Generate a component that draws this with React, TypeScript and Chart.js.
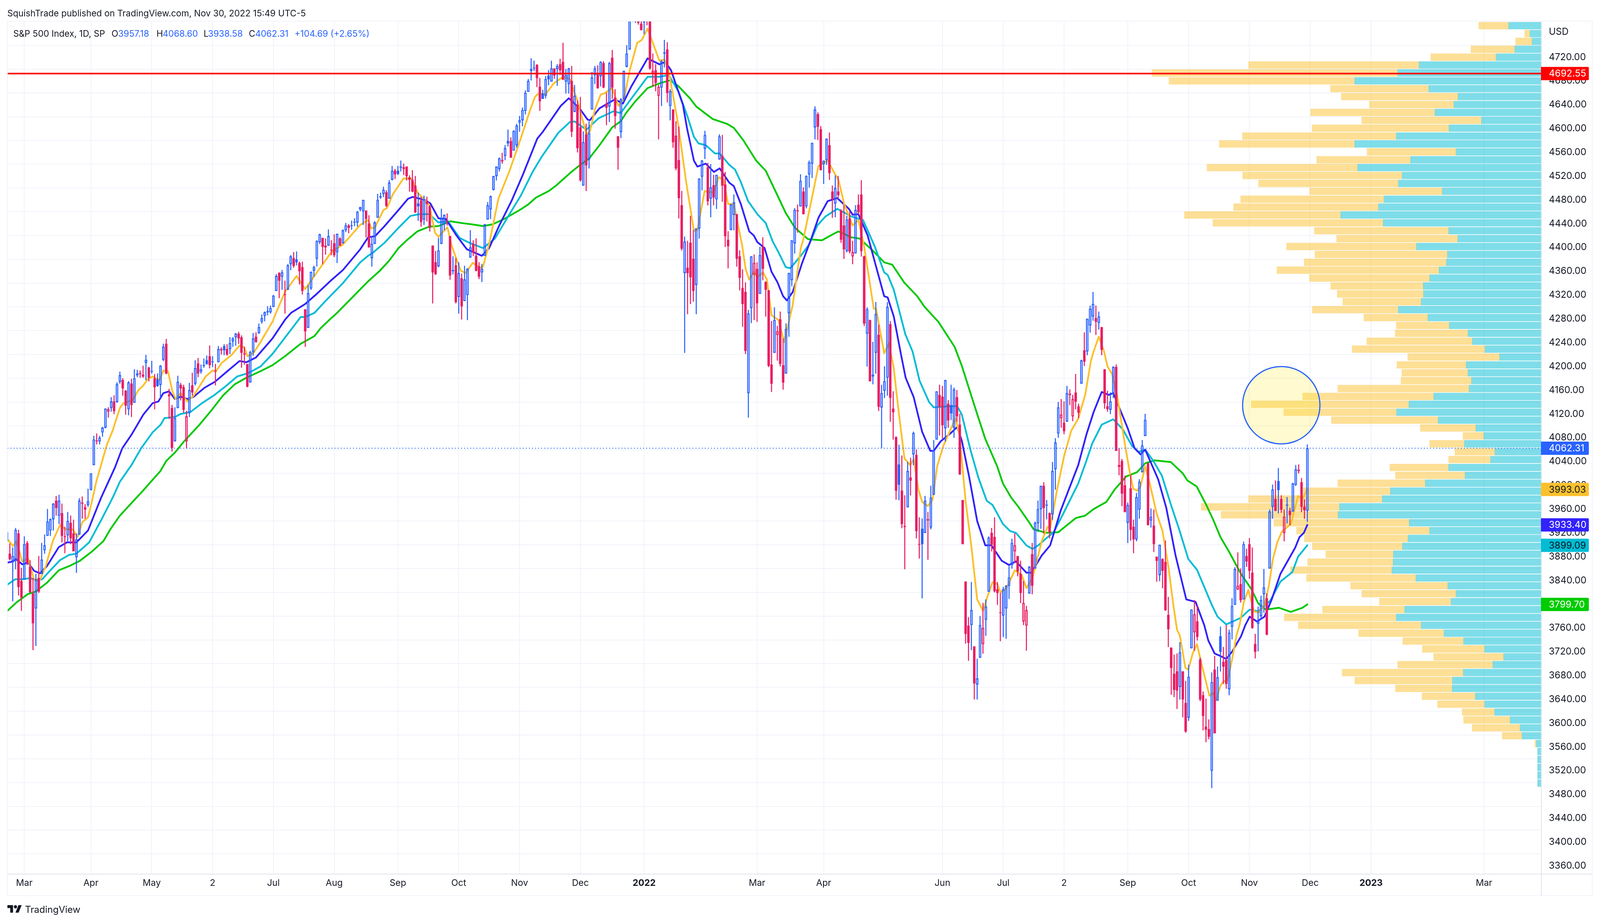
import React, { useEffect, useRef } from "react";
import { Chart, registerables } from "chart.js";

Chart.register(...registerables);

const FONT = "Inter";
const INK = "#131722";
const UP = "#2962ff";
const DOWN = "#e91e63";

// Daily candles, [open, high, low, close], read month by month
const feb21 = [[3921,3931,3903,3906],[3885,3902,3874,3876],[3873,3895,3805,3881],[3873,3928,3859,3925],[3919,3925,3815,3829],[3839,3861,3789,3811]];
const mar21 = [[3842,3914,3842,3901],[3903,3906,3866,3870],[3863,3874,3819,3820],[3818,3844,3723,3768],[3793,3851,3730,3842],[3844,3881,3819,3821],[3851,3903,3851,3875],[3891,3917,3885,3899],[3915,3960,3915,3939],[3924,3944,3915,3943],[3943,3970,3924,3969],[3974,3982,3949,3962],[3949,3984,3935,3974],[3953,3969,3904,3915],[3914,3930,3886,3913],[3916,3955,3906,3940],[3937,3949,3901,3911],[3919,3942,3889,3889],[3879,3919,3853,3909],[3917,3978,3917,3974],[3969,3981,3944,3971],[3963,3968,3944,3959],[3967,3994,3964,3973]];
const apr21 = [[3992,4020,3992,4020],[4034,4083,4034,4077],[4075,4087,4069,4074],[4074,4083,4069,4080],[4089,4098,4082,4097],[4097,4129,4096,4129],[4124,4131,4114,4128],[4130,4148,4124,4141],[4141,4151,4120,4125],[4140,4173,4139,4170],[4174,4191,4171,4185],[4177,4180,4151,4163],[4159,4160,4119,4134],[4128,4175,4118,4173],[4171,4179,4115,4135],[4139,4195,4139,4180],[4185,4194,4182,4188],[4188,4193,4181,4187],[4186,4201,4181,4183],[4206,4219,4177,4211],[4198,4199,4175,4181]];
const may21 = [[4191,4209,4188,4192],[4180,4187,4128,4165],[4178,4188,4166,4167],[4169,4202,4147,4201],[4211,4238,4209,4233],[4238,4246,4187,4188],[4150,4162,4112,4153],[4130,4135,4057,4063],[4074,4131,4074,4113],[4130,4184,4130,4174],[4169,4172,4143,4163],[4165,4169,4122,4127],[4074,4125,4062,4116],[4122,4172,4115,4160],[4168,4189,4151,4156],[4171,4210,4168,4197],[4205,4214,4182,4188],[4191,4203,4188,4195],[4201,4213,4198,4201],[4210,4218,4203,4204]];
const jun21 = [[4217,4235,4197,4202],[4207,4217,4199,4208],[4191,4204,4168,4192],[4207,4234,4207,4229],[4229,4232,4220,4227],[4234,4237,4219,4227],[4229,4237,4218,4220],[4229,4249,4221,4239],[4242,4249,4233,4247],[4249,4256,4235,4255],[4255,4258,4238,4247],[4249,4252,4198,4223],[4220,4233,4203,4222],[4204,4204,4165,4166],[4173,4226,4173,4224],[4224,4256,4218,4247],[4250,4257,4240,4241],[4256,4272,4255,4266],[4275,4287,4272,4281],[4285,4292,4276,4291],[4293,4301,4286,4291],[4291,4302,4289,4298]];
const jul21 = [[4300,4320,4300,4319],[4327,4355,4327,4352],[4357,4358,4315,4344],[4351,4362,4329,4358],[4321,4344,4289,4320],[4329,4372,4329,4370],[4372,4387,4362,4385],[4382,4392,4366,4369],[4380,4393,4370,4375],[4374,4376,4338,4360],[4367,4376,4321,4327],[4296,4296,4233,4259],[4265,4337,4265,4323],[4331,4359,4329,4359],[4361,4369,4351,4367],[4381,4412,4368,4411],[4409,4423,4406,4422],[4416,4416,4372,4401],[4403,4415,4388,4400],[4403,4430,4403,4419],[4396,4412,4387,4395]];
const aug21 = [[4407,4422,4384,4387],[4392,4423,4374,4423],[4415,4417,4403,4403],[4407,4430,4407,4429],[4429,4441,4426,4437],[4437,4439,4424,4433],[4436,4445,4430,4436],[4442,4449,4436,4443],[4442,4461,4435,4460],[4464,4468,4461,4468],[4461,4480,4438,4480],[4462,4462,4417,4448],[4440,4454,4400,4400],[4382,4418,4368,4406],[4406,4444,4406,4442],[4450,4490,4450,4480],[4484,4492,4482,4486],[4490,4502,4485,4497],[4493,4496,4468,4470],[4482,4513,4482,4509],[4514,4537,4513,4529],[4529,4532,4515,4523]];
const sep21 = [[4529,4537,4522,4524],[4534,4546,4528,4536],[4532,4541,4522,4535],[4536,4536,4513,4520],[4518,4521,4494,4514],[4514,4530,4493,4494],[4504,4520,4458,4459],[4474,4492,4445,4469],[4479,4485,4435,4443],[4447,4487,4438,4481],[4477,4485,4444,4473],[4469,4471,4427,4433],[4403,4403,4306,4358],[4375,4394,4354,4355],[4368,4416,4367,4395],[4406,4465,4406,4449],[4439,4455,4429,4455],[4443,4457,4437,4444],[4419,4419,4346,4353],[4362,4385,4355,4360],[4370,4382,4306,4308]];
const oct21 = [[4317,4375,4289,4357],[4348,4356,4279,4301],[4310,4369,4310,4346],[4320,4365,4278,4364],[4383,4429,4383,4400],[4406,4412,4386,4391],[4386,4415,4360,4361],[4368,4375,4347,4351],[4358,4372,4342,4364],[4386,4439,4386,4439],[4447,4476,4447,4471],[4464,4487,4448,4486],[4497,4520,4496,4520],[4520,4536,4513,4536],[4532,4551,4528,4550],[4547,4559,4541,4545],[4554,4572,4547,4567],[4579,4598,4570,4575],[4579,4585,4551,4551],[4563,4597,4563,4596],[4572,4608,4568,4605]];
const nov21 = [[4610,4621,4595,4614],[4614,4635,4604,4631],[4630,4664,4624,4660],[4662,4683,4662,4680],[4700,4718,4681,4697],[4701,4714,4697,4702],[4707,4708,4670,4685],[4670,4685,4630,4646],[4659,4665,4650,4650],[4655,4688,4651,4683],[4689,4698,4673,4683],[4679,4714,4679,4701],[4701,4701,4684,4689],[4700,4708,4672,4705],[4708,4717,4690,4698],[4712,4744,4683,4682],[4679,4700,4659,4690],[4675,4702,4659,4701],[4680,4705,4586,4595],[4628,4673,4628,4655],[4640,4647,4560,4567]];
const dec21 = [[4602,4653,4511,4513],[4504,4595,4504,4577],[4590,4608,4495,4538],[4548,4612,4533,4592],[4632,4695,4632,4686],[4690,4705,4675,4701],[4691,4706,4667,4668],[4688,4713,4671,4712],[4710,4713,4668,4669],[4642,4660,4606,4635],[4637,4712,4611,4710],[4719,4732,4650,4669],[4652,4666,4600,4621],[4587,4587,4531,4568],[4594,4651,4584,4649],[4650,4697,4645,4697],[4704,4740,4703,4726],[4733,4792,4733,4791],[4795,4808,4780,4786],[4788,4805,4778,4793],[4795,4808,4775,4778],[4776,4787,4765,4766]];
const jan22 = [[4779,4797,4759,4797],[4804,4819,4774,4794],[4787,4798,4699,4701],[4693,4726,4671,4697],[4698,4708,4663,4677],[4655,4673,4582,4670],[4669,4715,4638,4713],[4728,4749,4703,4726],[4733,4745,4644,4660],[4638,4666,4614,4663],[4632,4632,4568,4577],[4588,4612,4530,4533],[4547,4603,4449,4483],[4471,4495,4395,4398],[4357,4418,4223,4410],[4366,4411,4288,4357],[4408,4453,4305,4350],[4381,4429,4309,4327],[4337,4432,4288,4432],[4432,4516,4415,4516]];
const feb22 = [[4519,4547,4496,4546],[4566,4596,4549,4589],[4535,4542,4471,4478],[4482,4540,4451,4501],[4505,4522,4471,4484],[4481,4522,4465,4522],[4548,4590,4548,4587],[4554,4589,4477,4504],[4506,4527,4401,4419],[4413,4427,4365,4402],[4430,4473,4429,4472],[4455,4489,4429,4476],[4456,4456,4368,4381],[4385,4395,4328,4349],[4332,4363,4267,4305],[4325,4341,4221,4226],[4155,4295,4114,4289],[4298,4385,4273,4385],[4354,4388,4278,4374]];
const mar22 = [[4364,4375,4275,4306],[4322,4401,4322,4387],[4401,4417,4345,4364],[4342,4343,4284,4329],[4328,4328,4199,4201],[4203,4276,4157,4171],[4223,4299,4223,4278],[4253,4268,4210,4259],[4279,4292,4200,4204],[4202,4247,4161,4173],[4188,4272,4188,4263],[4289,4357,4250,4357],[4345,4412,4335,4412],[4407,4466,4390,4463],[4462,4472,4425,4461],[4469,4523,4469,4512],[4494,4501,4456,4456],[4469,4521,4466,4520],[4523,4546,4501,4543],[4541,4576,4517,4576],[4602,4637,4582,4632],[4624,4627,4581,4603],[4599,4604,4531,4530]];
const apr22 = [[4540,4546,4507,4546],[4547,4583,4539,4583],[4572,4593,4514,4525],[4494,4504,4450,4481],[4474,4521,4451,4500],[4494,4520,4481,4488],[4462,4464,4408,4413],[4437,4471,4381,4397],[4394,4453,4392,4447],[4449,4461,4390,4393],[4385,4411,4372,4392],[4390,4471,4390,4463],[4472,4489,4455,4459],[4489,4513,4385,4394],[4385,4386,4268,4272],[4255,4299,4200,4296],[4278,4278,4175,4175],[4186,4241,4170,4183],[4223,4308,4188,4288],[4253,4270,4125,4132]];
const may22 = [[4131,4169,4063,4155],[4159,4200,4147,4175],[4181,4308,4151,4300],[4271,4276,4107,4147],[4129,4158,4077,4123],[4081,4082,3976,3991],[4035,4068,3975,4001],[3991,4050,3928,3935],[3931,3983,3859,3930],[3963,4039,3963,4024],[4013,4046,3983,4008],[4052,4090,4034,4088],[4051,4060,3911,3923],[3900,3946,3877,3901],[3927,3944,3810,3901],[3920,3982,3920,3974],[3943,3955,3875,3941],[3929,3999,3926,3979],[3984,4076,3984,4058],[4077,4158,4077,4158],[4152,4169,4084,4132]];
const jun22 = [[4149,4167,4079,4101],[4096,4177,4074,4177],[4137,4143,4097,4109],[4135,4169,4110,4121],[4097,4164,4080,4161],[4148,4160,4107,4116],[4102,4120,4018,4018],[3975,3975,3901,3901],[3838,3838,3734,3750],[3764,3778,3705,3735],[3765,3837,3723,3790],[3729,3729,3640,3667],[3665,3708,3640,3675],[3710,3780,3710,3765],[3733,3802,3717,3760],[3774,3808,3747,3796],[3821,3914,3821,3912],[3920,3928,3889,3900],[3913,3946,3820,3822],[3825,3837,3799,3819],[3786,3819,3738,3785]];
const jul22 = [[3781,3829,3745,3825],[3793,3832,3742,3831],[3831,3864,3809,3845],[3866,3910,3860,3903],[3889,3919,3870,3899],[3881,3881,3847,3855],[3851,3873,3802,3819],[3771,3839,3765,3802],[3764,3797,3722,3790],[3818,3864,3818,3863],[3884,3903,3817,3831],[3860,3939,3860,3937],[3936,3974,3922,3960],[3960,3999,3927,3999],[3999,4005,3919,3962],[3966,3975,3943,3967],[3953,3954,3911,3921],[3951,4039,3942,4024],[4027,4079,3993,4072],[4087,4140,4080,4131]];
const aug22 = [[4113,4145,4097,4119],[4105,4141,4086,4091],[4107,4167,4107,4155],[4154,4161,4135,4152],[4116,4152,4108,4145],[4156,4187,4128,4141],[4133,4137,4113,4122],[4171,4211,4171,4210],[4227,4257,4201,4208],[4225,4280,4219,4280],[4269,4302,4257,4297],[4284,4325,4277,4305],[4281,4302,4253,4275],[4273,4292,4262,4284],[4266,4266,4219,4228],[4195,4195,4129,4138],[4133,4159,4124,4128],[4127,4156,4120,4141],[4153,4200,4147,4199],[4199,4203,4058,4058],[4034,4062,4017,4031],[4041,4044,3965,3986],[4000,4016,3955,3955]];
const sep22 = [[3937,3971,3903,3967],[3995,4018,3907,3925],[3930,3942,3886,3909],[3909,3987,3906,3980],[3959,4010,3944,4006],[4022,4076,4022,4067],[4083,4120,4083,4110],[4037,4038,3933,3933],[3941,3961,3929,3947],[3932,3959,3888,3901],[3880,3880,3838,3873],[3849,3900,3839,3900],[3876,3877,3827,3856],[3871,3907,3789,3790],[3782,3812,3728,3758],[3727,3727,3648,3693],[3683,3715,3644,3656],[3687,3717,3624,3655],[3661,3736,3640,3719],[3687,3687,3610,3640],[3634,3671,3584,3586]];
const oct22 = [[3609,3698,3604,3678],[3726,3791,3726,3791],[3753,3807,3722,3783],[3771,3797,3739,3745],[3707,3710,3637,3640],[3647,3653,3588,3612],[3594,3641,3568,3589],[3590,3606,3573,3577],[3520,3685,3491,3669],[3690,3713,3584,3583],[3638,3695,3638,3677],[3746,3762,3687,3720],[3703,3728,3666,3695],[3706,3765,3658,3666],[3657,3757,3647,3752],[3762,3810,3741,3797],[3799,3862,3799,3859],[3825,3887,3824,3831],[3834,3860,3803,3807],[3808,3905,3808,3901],[3881,3893,3863,3872]];
const nov22 = [[3901,3911,3843,3856],[3853,3895,3759,3760],[3733,3750,3709,3720],[3767,3796,3721,3771],[3780,3814,3774,3807],[3817,3859,3786,3828],[3810,3818,3748,3749],[3860,3959,3860,3956],[3964,4001,3944,3993],[3977,4008,3957,3957],[4007,4029,3953,3992],[3977,3983,3954,3959],[3920,3959,3906,3947],[3967,3980,3936,3966],[3957,3962,3933,3950],[3956,4004,3956,4003],[4001,4034,3999,4027],[4024,4035,4020,4026],[4005,4012,3955,3964],[3964,3976,3944,3958],[3957.18,4068.6,3938.58,4062.31]];

// Moving averages, [bar number (0 = 1 Mar 2021), price]
const emaYellow = [[-5.8,3909],[-3.9,3898],[-2.7,3906],[-0.7,3872],[1.3,3877],[3.4,3841],[5.4,3841],[7.4,3864],[9.9,3907],[12.3,3933],[14.3,3926],[16.7,3926],[18.4,3913],[20,3938],[22,3946],[23.2,3970],[24.9,4007],[26.9,4041],[28.5,4068],[30.5,4092],[33,4130],[34.2,4138],[37.4,4143],[39.4,4160],[41.1,4168],[42.7,4179],[44.3,4183],[46.7,4177],[48,4193],[49.6,4192],[51.2,4157],[52.3,4145],[54,4155],[56.3,4141],[58.5,4151],[62.6,4183],[65,4193],[66.2,4192],[68.2,4206],[71.5,4219],[74.3,4235],[75.9,4232],[77.1,4217],[79.2,4223],[81.6,4241],[83.6,4258],[85.7,4275],[86.9,4290],[90,4325],[94,4352],[97,4330],[101,4358],[106,4392],[110,4405],[116,4438],[118.7,4446],[119.9,4432],[121.1,4434],[124,4463],[125.2,4466],[127.2,4489],[130.9,4516],[133.7,4516],[135.7,4493],[137.8,4482],[139.8,4472],[141.8,4425],[143,4418],[146.1,4434],[147.5,4404],[149.1,4382],[150.7,4361],[152.4,4357],[154.8,4374],[157.6,4366],[158.4,4368],[160.5,4406],[163.7,4482],[167.4,4527],[171.4,4583],[174.7,4632],[176.3,4653],[177.5,4659],[179.9,4657],[182.8,4676],[186,4687],[188.4,4683],[190.9,4648],[194.1,4591],[195.3,4595],[197,4632],[199,4657],[200.2,4659],[203,4668],[205.1,4638],[207.1,4651],[209.1,4699],[211.6,4744],[213.2,4749],[215.2,4768],[219.3,4714],[221,4716],[222.5,4697],[225.8,4606],[228.4,4514],[231.2,4428],[232.4,4429],[234.9,4495],[236.1,4493],[238.1,4493],[239.7,4518],[241.4,4514],[243,4473],[245,4473],[247.8,4405],[249.1,4363],[250.3,4346],[251.9,4359],[253.1,4350],[255.1,4358],[256.4,4346],[258,4286],[260.4,4278],[262.4,4241],[265.3,4303],[268.1,4399],[268.9,4412],[271.8,4480],[274.2,4537],[277.4,4546],[280.3,4520],[281.1,4514],[283.1,4473],[286,4437],[288,4446],[290,4401],[293.3,4297],[294.1,4297],[296.9,4222],[298.5,4239],[300.2,4197],[301.8,4128],[303.9,4045],[305.9,4034],[307.1,4044],[308.7,3993],[310,3972],[312,3965],[313.6,3976],[315.2,4032],[317.3,4066],[320.1,4097],[321.5,4113],[322.9,4085],[325,3974],[327,3897],[329,3808],[331,3789],[332.7,3815],[334.3,3837],[335.9,3834],[337.1,3820],[339.1,3827],[342,3857],[344.4,3849],[346,3827],[348.1,3844],[351.3,3906],[353.3,3930],[354.2,3928],[356.6,3993],[359,4049],[361.5,4092],[363.9,4112],[366.3,4152],[368.3,4210],[369.2,4225],[371,4250],[372.8,4225],[374,4200],[375.6,4187],[377.3,4152],[380.1,4066],[381.7,4022],[382.9,3994],[384.2,3991],[385.4,3998],[387,4032],[388.6,4003],[391,3952],[393,3923],[395.1,3861],[396.7,3800],[398,3757],[399,3747],[400.9,3693],[401.9,3690],[403.4,3717],[404.9,3733],[406.4,3701],[409.2,3646],[410.5,3651],[411.5,3638],[413,3663],[414,3670],[415.5,3672],[417,3707],[418.6,3749],[419.6,3765],[421.1,3804],[422.6,3824],[424.6,3788],[426.1,3786],[428.2,3798],[429.7,3831],[431.2,3878],[432.7,3905],[434.2,3922],[437.3,3935],[439.8,3982],[441.3,3977],[443,3993.03]];
const emaBlue = [[-5.8,3870],[-3.9,3872],[-2.9,3876],[-0.7,3867],[1.3,3870],[3.4,3856],[5.4,3852],[7.8,3864],[11.9,3896],[14.7,3904],[18,3904],[22,3924],[26.5,3979],[31.3,4030],[33.8,4062],[37,4085],[41.1,4119],[44.3,4138],[46.3,4141],[48,4155],[50,4158],[52,4145],[54,4149],[56.5,4145],[58.5,4149],[62.2,4164],[65.8,4174],[69.9,4191],[74.3,4209],[76.7,4207],[80,4215],[85.7,4247],[90.1,4279],[92.1,4290],[97,4305],[101,4322],[106,4345],[110,4362],[116,4397],[118.7,4417],[121.1,4419],[124.4,4436],[129.2,4463],[132.5,4482],[134.1,4485],[138.2,4480],[140.2,4474],[143,4449],[145.5,4448],[149.1,4421],[152.8,4397],[158,4386],[160.5,4399],[164.1,4438],[168.2,4478],[172.2,4523],[177.1,4583],[179.1,4595],[185.2,4638],[188,4651],[191.7,4634],[194.5,4615],[195.3,4614],[198.6,4634],[201.4,4642],[203.9,4649],[206.7,4642],[209.5,4670],[215.2,4718],[219.3,4708],[221.3,4712],[223.3,4698],[227.4,4640],[228.8,4601],[231.2,4546],[232.4,4536],[235.3,4541],[238.1,4527],[240.1,4533],[243.4,4509],[245,4503],[247.4,4473],[250.3,4427],[251.9,4420],[253.1,4409],[255.6,4399],[258,4359],[260,4342],[262,4318],[263.3,4311],[265.3,4325],[268.5,4373],[271.8,4416],[274.2,4450],[277.4,4478],[280.7,4483],[284.7,4465],[286,4455],[288,4456],[291.2,4420],[293.7,4375],[296.9,4318],[298.1,4316],[300.2,4284],[302.7,4220],[304.3,4181],[307.1,4148],[310,4090],[312.8,4058],[314,4058],[316.4,4074],[319.7,4087],[322.1,4098],[323.7,4075],[326.2,4015],[329,3940],[331.8,3899],[333.9,3899],[337.5,3873],[340,3866],[342.4,3872],[346,3853],[347.7,3853],[351.3,3882],[354.2,3899],[357.8,3957],[363.9,4034],[366.7,4085],[369.2,4123],[372,4157],[374.4,4152],[376,4155],[380.9,4097],[383.3,4063],[385.4,4052],[387,4060],[391.5,4010],[394.3,3962],[397.5,3882],[401.2,3808],[404.4,3804],[407.4,3765],[408.8,3739],[411,3717],[412.5,3714],[415,3708],[417,3720],[420.1,3746],[421.6,3765],[423.1,3779],[425.6,3771],[428.2,3779],[430.7,3808],[433.7,3851],[438.8,3895],[440.3,3913],[441.8,3920],[443,3933.4]];
const emaCyan = [[-5.8,3833],[-3.1,3842],[-0.3,3842],[2.1,3844],[4.2,3840],[6.2,3842],[8.6,3855],[12.3,3874],[15.5,3883],[18,3885],[22.4,3904],[26.5,3941],[30.5,3979],[33,4006],[37,4034],[40.3,4062],[44.3,4089],[47.1,4102],[48.4,4113],[52,4115],[54,4120],[57.3,4123],[61.3,4138],[65.4,4151],[69.4,4166],[73.5,4183],[77.5,4189],[81.6,4200],[85.7,4221],[90.1,4249],[95.4,4283],[97,4283],[100.2,4290],[104,4310],[110,4340],[116,4375],[118.7,4386],[120.3,4391],[124.4,4408],[129.2,4433],[133.3,4453],[136.5,4456],[139.8,4456],[143,4442],[146.3,4444],[150.3,4416],[153.6,4408],[158.4,4399],[162.5,4415],[167.4,4455],[171.4,4487],[175.5,4527],[178.7,4553],[184.4,4593],[188.4,4611],[190,4612],[194.1,4598],[198.2,4617],[203.4,4629],[205.9,4626],[210.3,4655],[215.2,4687],[219.3,4687],[222.5,4690],[225.8,4663],[229,4620],[231.2,4586],[232.8,4575],[235.3,4572],[238.5,4558],[240.1,4558],[243.4,4539],[245.4,4531],[247.4,4510],[249.9,4478],[253.1,4456],[256,4441],[258.4,4410],[260.4,4392],[262.9,4367],[264.5,4365],[268.1,4386],[271,4405],[273.8,4437],[276.6,4452],[280.7,4465],[285.6,4452],[289.6,4446],[293.7,4401],[296.9,4358],[298.1,4354],[300.2,4329],[304.2,4254],[306.7,4225],[309.1,4176],[312.4,4140],[314,4131],[319.7,4133],[322.1,4133],[323.7,4119],[326.6,4061],[329.4,4013],[332.3,3974],[334.3,3967],[337.9,3935],[340.4,3923],[342.4,3920],[346,3899],[348.1,3893],[350.1,3899],[352.9,3911],[355.4,3921],[359,3955],[363.9,4003],[366.7,4041],[368.7,4070],[372,4102],[376,4111],[379.3,4094],[382.5,4066],[384.6,4056],[387,4060],[389.7,4042],[392.8,4016],[395.8,3969],[398.8,3925],[401.9,3876],[404.9,3858],[410,3799],[412,3779],[415,3766],[420,3777],[423.1,3791],[426.1,3788],[430.2,3806],[433.7,3838],[437.8,3854],[439.8,3880],[443,3899.09]];
const emaGreen = [[-5.8,3789],[-2.7,3803],[1.2,3817],[3.8,3821],[7.8,3836],[11.9,3857],[15.9,3865],[19.2,3873],[23.2,3888],[27.3,3906],[29.7,3926],[33,3949],[37,3970],[41,3991],[45,4013],[47,4024],[49,4041],[52,4055],[55,4073],[60.5,4102],[64.6,4126],[68.6,4151],[72.7,4170],[76.7,4181],[81.6,4192],[85.7,4202],[90,4217],[95.4,4238],[100.2,4251],[102.3,4264],[105.5,4279],[108,4290],[118.7,4343],[122.8,4361],[126,4378],[129.2,4399],[132.5,4414],[135.7,4427],[139.8,4435],[143,4436],[147.1,4444],[151.1,4441],[154.4,4439],[158.4,4436],[161.7,4439],[165.7,4448],[168.2,4455],[171.4,4464],[173.9,4472],[176.7,4484],[181.1,4495],[183.6,4504],[188.4,4525],[191.7,4538],[194.9,4549],[198.6,4572],[203,4602],[205.9,4612],[207.9,4627],[211.2,4647],[215.2,4668],[219.3,4676],[222.9,4681],[225.7,4672],[229.8,4651],[232,4637],[237.7,4616],[242.6,4608],[245,4601],[248.3,4580],[252.7,4546],[256,4529],[260.4,4484],[262.9,4458],[266.1,4433],[270.6,4414],[275.4,4412],[279.1,4422],[281.1,4427],[285.6,4417],[288.4,4415],[292.9,4395],[296.9,4375],[299.7,4371],[303.8,4341],[308.3,4318],[310.7,4301],[315.6,4275],[321.2,4233],[323.7,4201],[327.8,4138],[331.8,4078],[335.9,4032],[337.9,4003],[340.8,3979],[343.2,3964],[346.9,3938],[348.5,3926],[352.9,3920],[357,3921],[363.1,3945],[366.3,3949],[369.2,3960],[373.6,3972],[376.5,3993],[380.5,4015],[384.2,4022],[387,4037],[390.2,4042],[395.9,4039],[400,4020],[401.6,4008],[404.8,3998],[408.1,3967],[410.5,3942],[413,3913],[416,3888],[420.1,3851],[423.6,3826],[426.1,3801],[428.7,3791],[433.2,3794],[437.3,3787],[441.3,3794],[443,3799.7]];

// Volume profile, rows listed from the top price bin downwards
const vpPrices = [4786.4,4773.1,4759.8,4746.6,4733.3,4720,4706.8,4693.5,4680.2,4667,4653.7,4640.4,4627.2,4613.9,4600.6,4587.3,4574.1,4560.8,4547.5,4534.3,4521,4507.7,4494.5,4481.2,4467.9,4454.6,4441.4,4428.1,4414.8,4401.6,4388.3,4375,4361.8,4348.5,4335.2,4321.9,4308.7,4295.4,4282.1,4268.9,4255.6,4242.3,4229.1,4215.8,4202.5,4189.2,4176,4162.7,4149.4,4136.2,4122.9,4109.6,4096.4,4083.1,4069.8,4056.5,4043.3,4030,4016.7,4003.5,3990.2,3976.9,3963.7,3950.4,3937.1,3923.8,3910.6,3897.3,3884,3870.8,3857.5,3844.2,3831,3817.7,3804.4,3791.1,3777.9,3764.6,3751.3,3738.1,3724.8,3711.5,3698.3,3685,3671.7,3658.4,3645.2,3631.9,3618.6,3605.4,3592.1,3578.8,3565.6,3552.3,3539,3525.7,3512.5,3499.2];
const vpUp = [225,112,39,32,91,155,418,491,638,385,285,299,364,205,316,496,638,292,447,628,476,489,339,538,557,686,541,317,286,427,321,325,350,382,404,403,411,489,388,315,251,236,193,143,257,251,239,247,368,453,495,353,224,197,263,159,174,317,261,397,516,544,690,695,452,382,456,475,506,507,511,429,320,292,309,467,496,411,333,266,194,129,166,267,304,305,226,194,160,107,73,66,17,13,13,13,13,13];
const vpDown = [250,102,18,56,150,223,583,840,635,336,399,289,425,409,468,526,463,304,321,515,545,478,453,490,495,534,582,459,414,444,453,486,554,411,316,295,268,294,219,181,249,361,454,314,237,226,241,449,448,539,386,365,190,71,119,137,143,201,238,299,298,457,473,400,462,455,354,308,231,292,347,374,332,322,245,281,383,420,292,208,213,239,325,414,334,194,182,161,111,159,164,68,5,0,0,0,0,0];

// Axes
const priceTicks = [3360,3400,3440,3480,3520,3560,3600,3640,3680,3720,3760,3800,3840,3880,3920,3960,4000,4040,4080,4120,4160,4200,4240,4280,4320,4360,4400,4440,4480,4520,4560,4600,4640,4680,4720];
const timeTickBars = [0,23,44,65,86,107,129,150,171,192,214,253,276,317,338,359,381,402,423,444,465,504];
const timeTickLabels = ["Mar","Apr","May","2","Jul","Aug","Sep","Oct","Nov","Dec","2022","Mar","Apr","Jun","Jul","2","Sep","Oct","Nov","Dec","2023","Mar"];
const yearLabels = ["2022","2023"];

// Horizontal levels and price tags
const resistance = 4692.55;
const lastClose = 4062.31;
const tagValues = [4692.55,4062.31,3993.03,3933.4,3899.09,3799.7];
const tagFills = ["#ff0000","#2962ff","#fbc02d","#3322fb","#00bcd4","#00cc00"];
const tagInks = ["#ffffff","#ffffff",INK,"#ffffff",INK,"#ffffff"];

// Marker circle: centre bar, centre price, radius
const circleBar = 434;
const circlePrice = 4134.7;
const circleRadius = 99;

const firstBar = -6;
const barMin = -5.85;
const barMax = 523.8;
const priceMin = 3346.2;
const priceMax = 4780.7;
const volumeMax = 5243;

// The page may be narrower than the reference: horizontal layout follows the window
const REF_W = 4346;
const H = 2362;
const W = Math.min(REF_W, window.innerWidth || REF_W);
const sx = W / REF_W;
const AXIS_X = 4186.7 * sx;
const FRAME_L = 20 * sx;
const FRAME_R = 4325 * sx;
const TAG_R = 4315.7 * sx;
const LABEL_X = 4207 * sx;
const PLOT_TOP = 54;
const PLOT_BOTTOM = 2236.7;
const FRAME_BOTTOM = 2291.7;

const candles = [...feb21,...mar21,...apr21,...may21,...jun21,...jul21,...aug21,...sep21,...oct21,...nov21,...dec21,...jan22,...feb22,...mar22,...apr22,...may22,...jun22,...jul22,...aug22,...sep22,...oct22,...nov22];

const pts = (a: number[][]) => a.map(([x, y]) => ({ x, y }));

const overlays: any = {
  id: "tvOverlays",
  afterDraw(chart: any) {
    const { ctx, scales } = chart;
    ctx.save();
    ctx.lineWidth = 2;
    ctx.strokeStyle = "#f0f3fa";
    ctx.strokeRect(FRAME_L, PLOT_TOP, FRAME_R - FRAME_L, FRAME_BOTTOM - PLOT_TOP);
    ctx.strokeStyle = "#e0e3eb";
    ctx.beginPath();
    ctx.moveTo(FRAME_L, PLOT_BOTTOM);
    ctx.lineTo(FRAME_R, PLOT_BOTTOM);
    ctx.moveTo(AXIS_X, PLOT_TOP);
    ctx.lineTo(AXIS_X, FRAME_BOTTOM);
    ctx.stroke();
    ctx.font = `400 24px ${FONT}`;
    ctx.textBaseline = "middle";
    ctx.textAlign = "left";
    tagValues.forEach((v, k) => {
      const y = scales.y.getPixelForValue(v);
      ctx.fillStyle = tagFills[k];
      ctx.beginPath();
      ctx.roundRect(AXIS_X - 1, y - 17, TAG_R - AXIS_X + 1, 34, [0, 3, 3, 0]);
      ctx.fill();
      ctx.fillStyle = tagInks[k];
      ctx.fillText(v.toFixed(2), LABEL_X, y + 1);
    });
    ctx.restore();
  },
};

export default function App() {
  const ref = useRef<HTMLCanvasElement>(null);
  useEffect(() => {
    document.body.style.margin = "0";
    const closeColor = candles.map((c, k) => (k === 0 || c[3] >= candles[k - 1][3] ? UP : DOWN));
    const bodyFill = candles.map((c, k) => (c[3] >= c[0] ? "rgba(255,255,255,0)" : closeColor[k]));
    const barBase = { type: "bar", grouped: false, borderSkipped: false, order: 1 };
    const wick = { ...barBase, barThickness: 2, backgroundColor: closeColor, borderWidth: 0 };
    const line = (data: number[][], color: string, order: number) => ({
      type: "line", data: pts(data), borderColor: color, borderWidth: 4.5, pointRadius: 0, tension: 0, order,
      borderJoinStyle: "round", borderCapStyle: "round",
    });
    const chart = new Chart(ref.current as any, {
      type: "bar",
      data: {
        datasets: [
          { type: "line", data: pts([[barMin, resistance], [barMax, resistance]]), borderColor: "#ff0000", borderWidth: 4, pointRadius: 0, order: 0 },
          { type: "line", data: pts([[barMin, lastClose], [barMax, lastClose]]), borderColor: UP, borderWidth: 2, borderDash: [2.5, 5.4], pointRadius: 0, order: 0 },
          { ...wick, data: candles.map((c, k) => ({ x: k + firstBar, y: [Math.max(c[0], c[3]), c[1]] })) },
          { ...wick, data: candles.map((c, k) => ({ x: k + firstBar, y: [c[2], Math.min(c[0], c[3])] })) },
          { ...barBase, barThickness: 6, minBarLength: 2, borderWidth: 2, backgroundColor: bodyFill, borderColor: closeColor,
            data: candles.map((c, k) => ({ x: k + firstBar, y: [c[0], c[3]] })) },
          line(emaYellow, "#fbc02d", 2.1),
          line(emaBlue, "#3322fb", 2.2),
          line(emaCyan, "#00bcd4", 2.3),
          line(emaGreen, "#00c800", 2.4),
          { type: "bubble", data: [{ x: circleBar, y: circlePrice, r: circleRadius }], backgroundColor: "rgba(255,235,59,0.245)", borderColor: UP, borderWidth: 3, order: 3 },
          { type: "bar", indexAxis: "y", xAxisID: "xVol", yAxisID: "y", grouped: false, barThickness: 18, borderWidth: 0, order: 4,
            backgroundColor: "rgba(0,188,212,0.5)", data: vpPrices.map((p, k) => ({ y: p, x: [0, vpUp[k]] })) },
          { type: "bar", indexAxis: "y", xAxisID: "xVol", yAxisID: "y", grouped: false, barThickness: 18, borderWidth: 0, order: 4,
            backgroundColor: "rgba(251,192,45,0.5)", data: vpPrices.map((p, k) => ({ y: p, x: [vpUp[k], vpUp[k] + vpDown[k]] })) },
        ] as any,
      },
      options: {
        animation: false,
        responsive: false,
        devicePixelRatio: 1,
        events: [],
        layout: { autoPadding: false, padding: { left: FRAME_L, top: PLOT_TOP, right: 0, bottom: H - FRAME_BOTTOM } },
        plugins: { legend: { display: false }, tooltip: { enabled: false } },
        scales: {
          x: {
            type: "linear", axis: "x", position: "bottom", min: barMin, max: barMax, offset: false, beginAtZero: false,
            grid: { color: "#f0f3fa", lineWidth: 2, drawTicks: false, offset: false },
            border: { display: false },
            afterBuildTicks: (s: any) => { s.ticks = timeTickBars.map((value) => ({ value })); },
            afterFit: (s: any) => { s.height = FRAME_BOTTOM - PLOT_BOTTOM; },
            ticks: {
              autoSkip: false, maxRotation: 0, minRotation: 0, padding: 10, color: INK,
              callback: (v: any) => timeTickLabels[timeTickBars.indexOf(v)],
              font: (c: any) => {
                const label = timeTickLabels[timeTickBars.indexOf(c.tick && c.tick.value)];
                return { family: FONT, size: 23, weight: yearLabels.includes(label) ? 700 : 400 };
              },
            },
          },
          xVol: { type: "linear", axis: "x", display: false, reverse: true, min: 0, max: volumeMax, offset: false, grid: { display: false, offset: false } },
          y: {
            type: "linear", axis: "y", position: "right", min: priceMin, max: priceMax, offset: false, beginAtZero: false,
            grid: { color: "#f0f3fa", lineWidth: 2, drawTicks: false },
            border: { display: false },
            afterBuildTicks: (s: any) => { s.ticks = priceTicks.map((value) => ({ value })); },
            afterFit: (s: any) => { s.width = W - AXIS_X; },
            ticks: {
              autoSkip: false, padding: LABEL_X - AXIS_X, color: INK, font: { family: FONT, size: 24 },
              callback: (v: any) => Number(v).toFixed(2),
            },
          },
        },
      } as any,
      plugins: [overlays],
    });
    return () => chart.destroy();
  }, []);

  const text = (left: number, cy: number, size: number, color: string, s: string) => (
    <span style={{ position: "absolute", left: left * sx, top: cy - size, lineHeight: `${size * 2}px`, fontSize: size, color, whiteSpace: "nowrap" }}>{s}</span>
  );

  return (
    <div style={{ position: "absolute", left: 0, top: 0, width: W, height: H, overflow: "hidden", background: "#fff", fontFamily: FONT }}>
      <canvas ref={ref} width={W} height={H} style={{ display: "block", width: W, height: H }} />
      {text(20, 33, 22.5, INK, "SquishTrade published on TradingView.com, Nov 30, 2022 15:49 UTC-5")}
      {text(36, 85, 22.5, INK, "S&P 500 Index, 1D, SP")}
      {text(303, 85, 22.5, INK, "O")}
      {text(321, 85, 22.5, UP, "3957.18")}
      {text(425, 85, 22.5, INK, "H")}
      {text(442, 85, 22.5, UP, "4068.60")}
      {text(553, 85, 22.5, INK, "L")}
      {text(565, 85, 22.5, UP, "3938.58")}
      {text(676, 85, 22.5, INK, "C")}
      {text(693, 85, 22.5, UP, "4062.31")}
      {text(800, 85, 22.5, UP, "+104.69 (+2.65%)")}
      {text(4207, 80.7, 24, INK, "USD")}
      <svg style={{ position: "absolute", left: FRAME_L, top: 2312, width: 37, height: 30 }} viewBox="0 0 36 28" preserveAspectRatio="none" fill={INK}>
        <path d="M14 22H7V11H0V4h14v18zM28 22h-8l7.5-18h8L28 22z" />
        <circle cx="20" cy="8" r="4" />
      </svg>
      {text(68, 2328, 24, INK, "TradingView")}
    </div>
  );
}
